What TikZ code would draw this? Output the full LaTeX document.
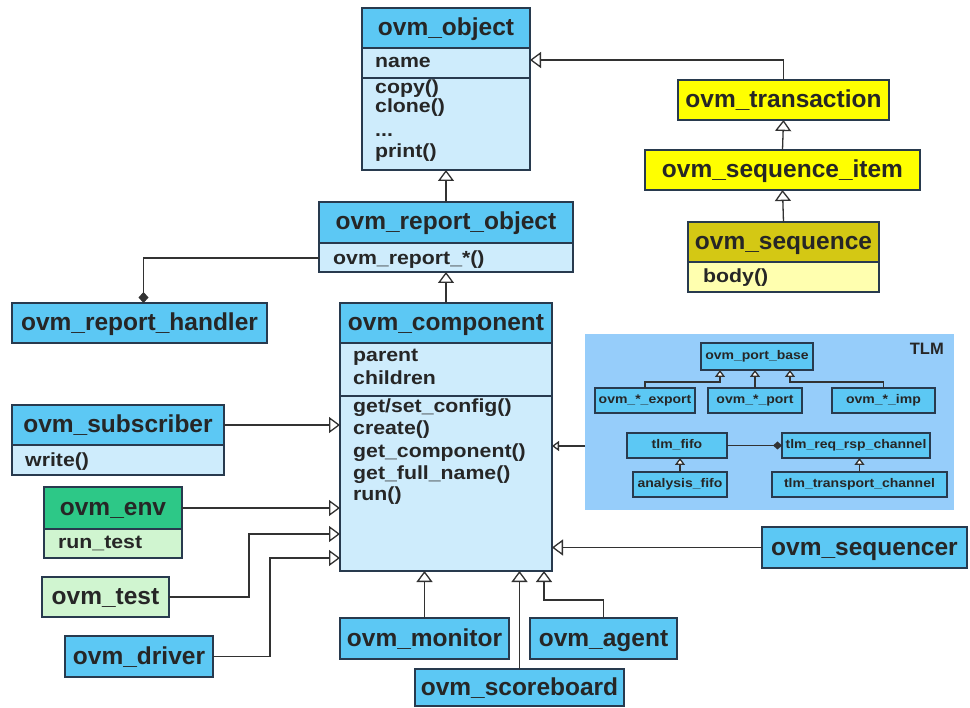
\documentclass[tikz,border=0pt]{standalone}
\usepackage{fontspec}
\setmainfont{Liberation Sans}
\newfontfamily\widesans[FakeStretch=1.12]{Liberation Sans}
\usetikzlibrary{arrows.meta}

\definecolor{headblue}{RGB}{92,200,244}
\definecolor{bodyblue}{RGB}{206,236,252}
\definecolor{tlmbg}{RGB}{150,205,250}
\definecolor{yel}{RGB}{255,255,0}
\definecolor{seqhead}{RGB}{212,200,20}
\definecolor{seqbody}{RGB}{255,255,175}
\definecolor{envhead}{RGB}{45,200,135}
\definecolor{envbody}{RGB}{208,245,208}
\definecolor{bord}{RGB}{40,58,78}
\definecolor{lnk}{RGB}{50,50,50}

\newcommand\ftitle{\fontsize{24.5}{26}\selectfont\bfseries}
\newcommand\fbody{\widesans\fontsize{19}{22}\selectfont\bfseries}
\newcommand\fsmall{\widesans\fontsize{12.5}{14}\selectfont\bfseries}
\newcommand\flabel{\fontsize{16.5}{17}\selectfont\bfseries}

\tikzset{
  box/.style={draw=bord, line width=1.4pt, inner sep=0pt, outer sep=0pt, anchor=north west},
  head/.style={box, fill=headblue, font=\ftitle, text=black!85, text height=19pt, text depth=4pt},
  bodyb/.style={box, fill=bodyblue},
  smallbox/.style={box, line width=1.2pt, fill=headblue, font=\fsmall, text=black!85, text height=10pt, text depth=3pt},
  txt/.style={anchor=base west, inner sep=0pt, font=\fbody, text=black!85},
  divider/.style={draw=bord, line width=1.4pt},
  link/.style={draw=lnk, line width=1.3pt},
  inh/.style={link, -{Triangle[fill=white,length=11pt,width=16pt]}},
  inhs/.style={link, -{Triangle[fill=white,length=7pt,width=10pt]}},
  hold/.style={link, -{Diamond[length=11pt,width=10pt]}},
  holds/.style={link, -{Diamond[length=9pt,width=8pt]}},
}

\begin{document}
\begin{tikzpicture}[x=1pt,y=-1pt]
\useasboundingbox[fill=white] (0,0) rectangle (970,708);

% ---- ovm_object ----
\node[bodyb, minimum width=168pt, minimum height=162pt] (obj) at (362,8) {};
\node[head, minimum width=168pt, minimum height=40pt] (objT) at (362,8) {ovm\_object};
\draw[divider] (obj.west |- 0,78) -- (obj.east |- 0,78);
\node[txt] (objA) at (375,68) {name};
\node[txt] (objM1) at (375,94) {copy()};
\node[txt] (objM2) at (375,113) {clone()};
\node[txt] (objM3) at (375,137) {...};
\node[txt] (objM4) at (375,158) {print()};

% ---- ovm_report_object ----
\node[bodyb, minimum width=254pt, minimum height=70pt] (rpo) at (319,202) {};
\node[head, minimum width=254pt, minimum height=41pt] (rpoT) at (319,202) {ovm\_report\_object};
\node[txt] (rpoM) at (333,265) {ovm\_report\_*()};

% ---- ovm_report_handler ----
\node[head, minimum width=255pt, minimum height=40pt] (hnd) at (12,303) {ovm\_report\_handler};

% ---- ovm_component ----
\node[bodyb, minimum width=212pt, minimum height=268pt] (comp) at (340,303) {};
\node[head, minimum width=212pt, minimum height=40pt] (compT) at (340,303) {ovm\_component};
\draw[divider] (comp.west |- 0,396) -- (comp.east |- 0,396);
\node[txt] (compA1) at (353,362) {parent};
\node[txt] (compA2) at (353,385) {children};
\node[txt] (compM1) at (353,413) {get/set\_config()};
\node[txt] (compM2) at (353,435) {create()};
\node[txt] (compM3) at (353,458) {get\_component()};
\node[txt] (compM4) at (353,480) {get\_full\_name()};
\node[txt] (compM5) at (353,501) {run()};

% ---- ovm_subscriber ----
\node[bodyb, minimum width=212pt, minimum height=70pt] (sub) at (12,405) {};
\node[head, minimum width=212pt, minimum height=40pt] (subT) at (12,405) {ovm\_subscriber};
\node[txt] (subM) at (25,467) {write()};

% ---- ovm_env ----
\node[box, fill=envbody, minimum width=138pt, minimum height=71pt] (env) at (44,487) {};
\node[head, fill=envhead, minimum width=138pt, minimum height=42pt] (envT) at (44,487) {ovm\_env};
\node[txt] (envM) at (58,548) {run\_test};

% ---- leaf components ----
\node[head, fill=envbody, minimum width=127pt, minimum height=40pt] (tst) at (42,577) {ovm\_test};
\node[head, minimum width=148pt, minimum height=41pt] (drv) at (65,636) {ovm\_driver};
\node[head, minimum width=169pt, minimum height=41pt] (mon) at (340,618) {ovm\_monitor};
\node[head, minimum width=147pt, minimum height=41pt] (agt) at (530,618) {ovm\_agent};
\node[head, minimum width=209pt, minimum height=37pt] (sb) at (415,669) {ovm\_scoreboard};
\node[head, minimum width=205pt, minimum height=41pt] (seqr) at (762,527) {ovm\_sequencer};

% ---- transactions and sequences ----
\node[head, fill=yel, minimum width=211pt, minimum height=40pt] (trans) at (678,80) {ovm\_transaction};
\node[head, fill=yel, minimum width=275pt, minimum height=40pt] (item) at (645,150) {ovm\_sequence\_item};
\node[box, fill=seqbody, minimum width=191pt, minimum height=70pt] (seq) at (688,222) {};
\node[head, fill=seqhead, minimum width=191pt, minimum height=40pt] (seqT) at (688,222) {ovm\_sequence};
\node[txt] (seqM) at (703,283) {body()};

% ---- TLM package ----
\node[anchor=north west, fill=tlmbg, inner sep=0pt, outer sep=0pt,
      minimum width=369pt, minimum height=176pt] (tlm) at (585,334) {};
\node[anchor=base east, inner sep=0pt, font=\flabel, text=black!85] (tlmL) at (944,355) {TLM};
\node[smallbox, minimum width=112pt, minimum height=27pt] (pb) at (701,343) {ovm\_port\_base};
\node[smallbox, minimum width=100pt, minimum height=25pt] (exp) at (595,388) {ovm\_*\_export};
\node[smallbox, minimum width=94pt, minimum height=25pt] (prt) at (708,388) {ovm\_*\_port};
\node[smallbox, minimum width=103pt, minimum height=25pt] (imp) at (832,388) {ovm\_*\_imp};
\node[smallbox, minimum width=100pt, minimum height=25pt] (fifo) at (627,433) {tlm\_fifo};
\node[smallbox, minimum width=148pt, minimum height=25pt] (rsp) at (782,433) {tlm\_req\_rsp\_channel};
\node[smallbox, minimum width=94pt, minimum height=25pt] (af) at (633,472) {analysis\_fifo};
\node[smallbox, minimum width=175pt, minimum height=25pt] (tt) at (772,472) {tlm\_transport\_channel};

% ---- connectors ----
\draw[inh] (trans.north) |- ([yshift=-52pt]obj.north east);
\draw[inh] (item.north) -- (trans.south);
\draw[inh] (seqT.north) -- (item.south);
\draw[inh] (rpoT.north) -- (obj.south);
\draw[inh] (compT.north) -- (rpo.south);
\draw[hold] ([yshift=-56pt]rpo.north west) -| ([xshift=4pt]hnd.north);
\draw[inh] (subT.east) -- (subT.east -| comp.west);
\draw[inh] (envT.east) -- (envT.east -| comp.west);
\draw[inh] (tst.east) -- ([xshift=80pt]tst.east) |- ([yshift=-231pt]comp.north west);
\draw[inh] (drv.east) -- ([xshift=57pt]drv.east) |- ([yshift=-255pt]comp.north west);
\draw[inh] (mon.north) -- (mon.north |- comp.south);
\draw[inh] (sb.north) -- (sb.north |- comp.south);
\draw[inh] (agt.north) |- ([xshift=-8pt,yshift=-29pt]comp.south east) -- ([xshift=-8pt]comp.south east);
\draw[inh] (seqr.west) -- (seqr.west -| comp.east);
\draw[inhs] ([yshift=-112pt]tlm.north west) -- ([yshift=-112pt]tlm.north west -| comp.east);

% inside TLM
\draw[inhs] (exp.north) |- ([xshift=19pt,yshift=-12pt]pb.south west) -- ([xshift=19pt]pb.south west);
\draw[inhs] (prt.north) -- (prt.north |- pb.south);
\draw[inhs] (imp.north) |- ([xshift=-23pt,yshift=-12pt]pb.south east) -- ([xshift=-23pt]pb.south east);
\draw[holds] (fifo.east) -- (rsp.west);
\draw[inhs] (af.north) -- (af.north |- fifo.south);
\draw[inhs] (tt.north) -- (tt.north |- rsp.south);
\end{tikzpicture}
\end{document}
